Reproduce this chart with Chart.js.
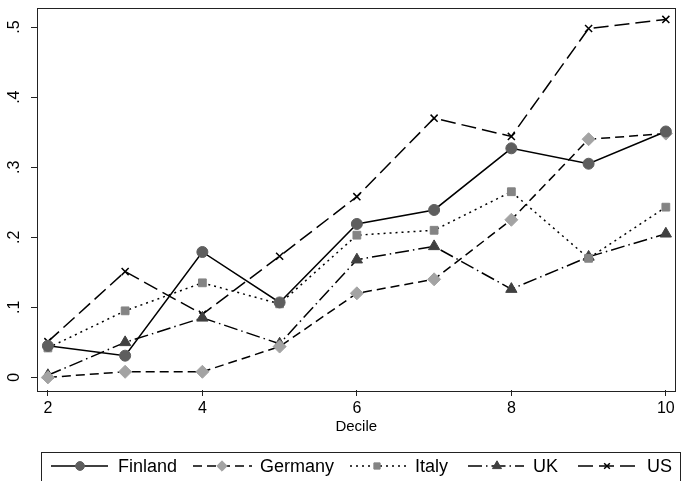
<!DOCTYPE html>
<html>
<head>
<meta charset="utf-8">
<script src="https://cdn.jsdelivr.net/npm/chart.js@4.4.0/dist/chart.umd.min.js"></script>
<style>
  html, body { margin: 0; padding: 0; background: #fff; }
  #wrap { width: 683px; height: 481px; position: relative; }
</style>
</head>
<body>
<div id="wrap"><canvas id="decileChart"></canvas></div>
<script>
// Data
const deciles = [2, 3, 4, 5, 6, 7, 8, 9, 10];
const finland = [0.045, 0.031, 0.179, 0.107, 0.219, 0.239, 0.327, 0.305, 0.351];
const germany = [0.000, 0.008, 0.008, 0.044, 0.120, 0.140, 0.225, 0.340, 0.348];
const italy   = [0.042, 0.095, 0.135, 0.105, 0.203, 0.210, 0.265, 0.170, 0.243];
const uk      = [0.003, 0.050, 0.085, 0.048, 0.168, 0.187, 0.126, 0.172, 0.205];
const us      = [0.051, 0.151, 0.090, 0.173, 0.258, 0.370, 0.344, 0.498, 0.511];
const xTicks = [2, 4, 6, 8, 10];
const yTicks = [0, 0.1, 0.2, 0.3, 0.4, 0.5];
const yTickLabels = ["0", ".1", ".2", ".3", ".4", ".5"];

const FONT = "'Liberation Sans', Arial, sans-serif";
Chart.defaults.font.family = FONT;
Chart.defaults.color = "#000";

const toPoints = (vals) => deciles.map((d, i) => ({ x: d, y: vals[i] }));

// series styles
const series = [
    { label: "Finland", data: finland, dash: [], style: "circle", color: "#5e5e5e", radius: 5.5 },
    { label: "Germany", data: germany, dash: [9, 5], style: "rectRot", color: "#a3a3a3", radius: 6.5 },
    { label: "Italy", data: italy, dash: [2, 4], style: "rect", color: "#848484", radius: 5.5 },
    { label: "UK", data: uk, dash: [14, 4, 1.5, 4], style: "triangle", color: "#404040", radius: 6.5 },
    { label: "US", data: us, dash: [15, 6], style: "crossRot", color: "#000", radius: 5 },
];

// plot frame + rotated y labels + bottom legend
const framePlugin = {
    id: "frame",
    afterDraw(chart) {
        const ctx = chart.ctx;
        const a = chart.chartArea;
        const yScale = chart.scales.y;
        ctx.save();
        ctx.strokeStyle = "#222";
        ctx.lineWidth = 1;
        ctx.strokeRect(Math.round(a.left) + 0.5, Math.round(a.top) + 0.5,
            Math.round(a.right - a.left) - 1, Math.round(a.bottom - a.top));

        // y tick labels, rotated
        ctx.fillStyle = "#000";
        ctx.font = "16px " + FONT;
        ctx.textAlign = "center";
        ctx.textBaseline = "middle";
        yTicks.forEach((v, i) => {
            const py = yScale.getPixelForValue(v);
            ctx.save();
            ctx.translate(15, py);
            ctx.rotate(-Math.PI / 2);
            ctx.fillText(yTickLabels[i], 0, 0);
            ctx.restore();
        });

        // legend
        const lx = 41, ly = 452, lw = 639;
        ctx.strokeRect(lx + 0.5, ly + 0.5, lw, 40);
        const items = [
            { s0: 51, s1: 108, m: 80, t: 118 },
            { s0: 193, s1: 252, m: 222, t: 260 },
            { s0: 350, s1: 408, m: 377, t: 415 },
            { s0: 468, s1: 524, m: 497, t: 533 },
            { s0: 578, s1: 639, m: 607, t: 647 },
        ];
        const cy = 466;
        series.forEach((s, i) => {
            const it = items[i];
            ctx.strokeStyle = "#000";
            ctx.lineWidth = 1.5;
            ctx.setLineDash(s.dash);
            ctx.beginPath();
            ctx.moveTo(it.s0, cy);
            ctx.lineTo(it.s1, cy);
            ctx.stroke();
            ctx.setLineDash([]);
            ctx.fillStyle = s.color;
            ctx.strokeStyle = s.color;
            ctx.lineWidth = s.style === "crossRot" ? 1.5 : 1;
            Chart.helpers.drawPoint(ctx, {
                pointStyle: s.style, radius: s.radius * 0.8, rotation: 0,
                borderWidth: ctx.lineWidth,
            }, it.m, cy);
            ctx.fillStyle = "#000";
            ctx.font = "18px " + FONT;
            ctx.textAlign = "left";
            ctx.textBaseline = "middle";
            ctx.fillText(s.label, it.t, cy + 1);
        });
        ctx.restore();
    },
};

const ctx = document.getElementById("decileChart").getContext("2d");
new Chart(ctx, {
    type: "line",
    data: {
        datasets: series.map((s) => ({
            label: s.label,
            data: toPoints(s.data),
            borderColor: "#000",
            borderWidth: 1.5,
            borderDash: s.dash,
            tension: 0,
            fill: false,
            pointStyle: s.style,
            pointRadius: s.radius,
            pointBackgroundColor: s.color,
            pointBorderColor: s.color,
            pointBorderWidth: s.style === "crossRot" ? 1.5 : 1,
        })),
    },
    options: {
        responsive: true,
        maintainAspectRatio: false,
        animation: false,
        layout: {
            padding: { left: 0, right: 0, top: 5, bottom: 41 },
        },
        plugins: {
            legend: { display: false },
            tooltip: { enabled: false },
        },
        scales: {
            x: {
                type: "linear",
                min: 1.859,
                max: 10.125,
                afterBuildTicks: (scale) => {
                    scale.ticks = xTicks.map((v) => ({ value: v }));
                },
                afterFit: (scale) => {
                    scale.height = 50;
                    scale.paddingLeft = 0;
                    scale.paddingRight = 0;
                },
                grid: {
                    drawOnChartArea: false,
                    drawTicks: true,
                    tickLength: 6,
                    color: "#222",
                },
                border: { display: false },
                ticks: {
                    font: { size: 16 },
                    padding: 3,
                    maxRotation: 0,
                    autoSkip: false,
                },
                title: {
                    display: true,
                    text: "Decile",
                    font: { size: 15 },
                    padding: { top: 0, bottom: 4 },
                },
            },
            y: {
                min: -0.018,
                max: 0.528,
                afterBuildTicks: (scale) => {
                    scale.ticks = yTicks.map((v) => ({ value: v }));
                },
                afterFit: (scale) => {
                    scale.width = 37;
                },
                grid: {
                    drawOnChartArea: false,
                    drawTicks: true,
                    tickLength: 6,
                    color: "#222",
                },
                border: { display: false },
                ticks: { display: false },
            },
        },
    },
    plugins: [framePlugin],
});
</script>
</body>
</html>
